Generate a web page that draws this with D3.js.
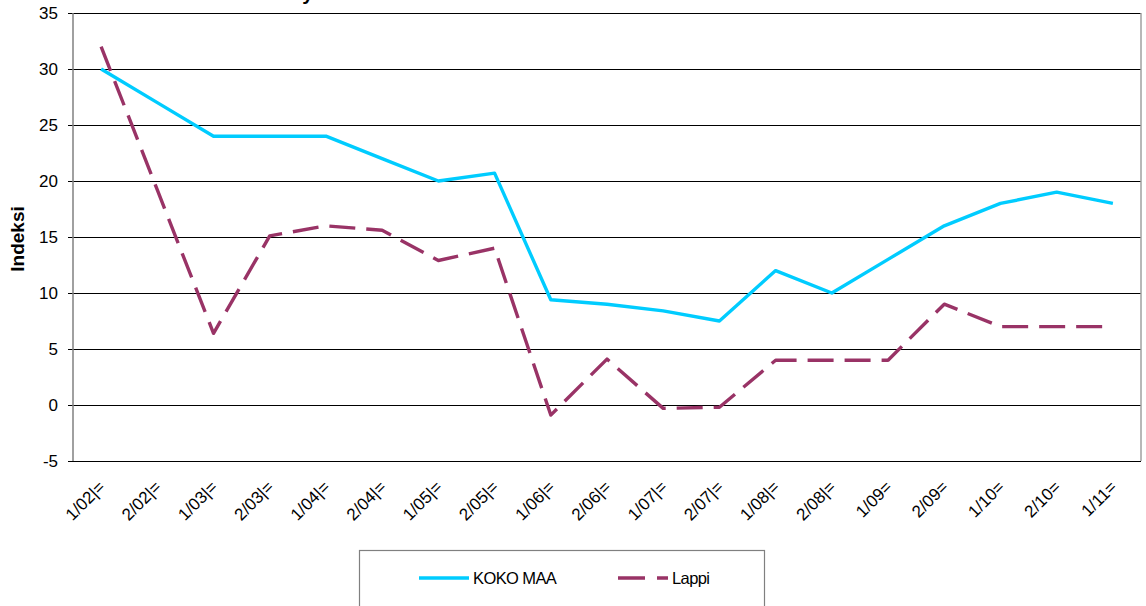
<!DOCTYPE html>
<html lang="en">

<head>
  <meta charset="utf-8">
  <title>Indeksi - KOKO MAA ja Lappi</title>
  <script src="https://d3js.org/d3.v7.min.js"></script>
  <style>
    body {
      margin: 0;
      background: #fff;
    }

    text {
      font-family: "Liberation Sans", Arial, sans-serif;
      fill: #000;
    }
  </style>
</head>

<body>

  <div id="chart"></div>

  <script>
    // chart data
    var periods = ["1/02|=", "2/02|=", "1/03|=", "2/03|=", "1/04|=", "2/04|=", "1/05|=", "2/05|=",
      "1/06|=", "2/06|=", "1/07|=", "2/07|=", "1/08|=", "2/08|=", "1/09=", "2/09=", "1/10=", "2/10=", "1/11="];
    var kokoMaa = [30, 27, 24, 24, 24, 22, 20, 20.7, 9.4, 9, 8.4, 7.5, 12, 10, 13, 16, 18, 19, 18];
    var lappi = [32, 19.2, 6.4, 15.1, 16, 15.6, 12.9, 14, -0.9, 4.1, -0.3, -0.2, 4, 4, 4, 9, 7, 7, 7];
    var yTicks = [-5, 0, 5, 10, 15, 20, 25, 30, 35];

    var series = [
      { name: "KOKO MAA", values: kokoMaa, color: "#00ccff", dash: null },
      { name: "Lappi", values: lappi, color: "#993366", dash: "26,11" }
    ];

    // width and height
    var w = 1146;
    var h = 606;
    var plot = { left: 73, right: 1141, top: 13, bottom: 461 };

    var svg = d3
      .select("#chart")
      .append("svg")
      .attr("width", w)
      .attr("height", h);

    var x = d3.scaleBand().domain(periods).range([plot.left, plot.right]);
    var y = d3.scaleLinear().domain([-5, 35]).range([plot.bottom, plot.top]);

    function cx(i) {
      return x(periods[i]) + x.bandwidth() / 2;
    }

    // title (cut off at the top edge)
    svg.append("text")
      .attr("x", 320)
      .attr("y", 0)
      .attr("text-anchor", "end")
      .style("font-size", "20px")
      .style("font-weight", "bold")
      .text("Suhdannetilanne nyt");

    // gridlines + y axis
    var yAxis = d3.axisLeft(y)
      .tickValues(yTicks)
      .tickSize(-(plot.right - plot.left))
      .tickPadding(0)
      .tickFormat(function (d) { return String(d); });

    var gy = svg.append("g")
      .attr("transform", "translate(" + plot.left + ",0)")
      .call(yAxis);

    gy.select(".domain").remove();
    gy.selectAll(".tick line")
      .attr("x1", -5)
      .attr("stroke", "#000")
      .attr("stroke-width", 1);
    gy.selectAll(".tick text")
      .attr("x", -15)
      .style("font-size", "17px")
      .style("font-family", "Liberation Sans, Arial, sans-serif");

    // plot frame sides
    svg.append("line")
      .attr("x1", plot.left).attr("x2", plot.left)
      .attr("y1", plot.top).attr("y2", plot.bottom)
      .attr("stroke", "#808080").attr("stroke-width", 1.5);
    svg.append("line")
      .attr("x1", plot.right).attr("x2", plot.right)
      .attr("y1", plot.top).attr("y2", plot.bottom)
      .attr("stroke", "#a0a0a0").attr("stroke-width", 1.5);

    // x labels
    var xAxis = d3.axisBottom(x).tickSize(0).tickPadding(0);
    var gx = svg.append("g")
      .attr("transform", "translate(0," + plot.bottom + ")")
      .call(xAxis);
    gx.select(".domain").remove();
    gx.selectAll(".tick text")
      .attr("y", 0)
      .attr("dy", 0)
      .attr("text-anchor", "end")
      .attr("transform", "translate(5,27) rotate(-45)")
      .style("font-size", "17px")
      .style("font-family", "Liberation Sans, Arial, sans-serif");

    // y axis title
    svg.append("text")
      .attr("transform", "translate(24," + ((plot.top + plot.bottom) / 2 + 2) + ") rotate(-90)")
      .attr("text-anchor", "middle")
      .style("font-size", "19px")
      .style("font-weight", "bold")
      .text("Indeksi");

    // lines
    var line = d3.line()
      .x(function (d, i) { return cx(i); })
      .y(function (d) { return y(d); });

    svg.selectAll(".series")
      .data(series)
      .enter()
      .append("path")
      .attr("class", "series")
      .attr("d", function (d) { return line(d.values); })
      .attr("fill", "none")
      .attr("stroke", function (d) { return d.color; })
      .attr("stroke-width", 3.4)
      .attr("stroke-dasharray", function (d) { return d.dash; })
      .attr("stroke-linejoin", "round");

    // legend
    var legend = svg.append("g");
    legend.append("rect")
      .attr("x", 359.5).attr("y", 550.5)
      .attr("width", 405).attr("height", 70)
      .attr("fill", "#fff")
      .attr("stroke", "#808080")
      .attr("stroke-width", 1.2);

    var legX = [419, 618];
    var item = legend.selectAll(".item")
      .data(series)
      .enter()
      .append("g")
      .attr("class", "item")
      .attr("transform", function (d, i) { return "translate(" + legX[i] + ",578)"; });

    item.append("line")
      .attr("x1", 0).attr("x2", 50)
      .attr("stroke", function (d) { return d.color; })
      .attr("stroke-width", 3.4)
      .attr("stroke-dasharray", function (d) { return d.dash ? "27,12" : null; });

    item.append("text")
      .attr("x", 54)
      .attr("y", 6)
      .style("font-size", "16.5px")
      .style("letter-spacing", "-0.6px")
      .text(function (d) { return d.name; });
  </script>

</body>

</html>
